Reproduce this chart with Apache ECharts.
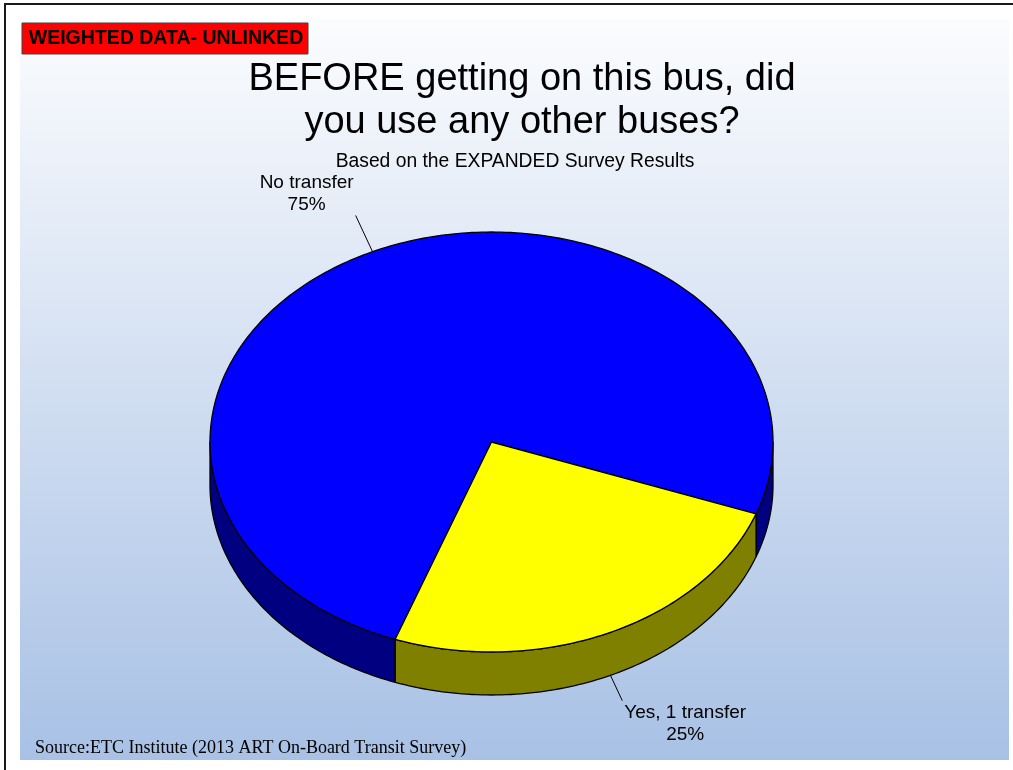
<!DOCTYPE html>
<html>
<head>
<meta charset="utf-8">
<title>Transfers before boarding</title>
<script src="https://cdn.jsdelivr.net/npm/echarts/dist/echarts.min.js"></script>
<style>
  html, body { margin: 0; padding: 0; background: #ffffff; }
  #chart { width: 1013px; height: 770px; }
</style>
</head>
<body>
<div id="chart"></div>
<script>
// Survey answers and their shares (percent of expanded responses)
const categories = ['No transfer', 'Yes, 1 transfer'];
const shares = [75, 25];

// Face and wall colours of each slice
const topColors = ['#0000ff', '#ffff00'];
const sideColors = ['#000080', '#808000'];

const FONT = '"Liberation Sans", Arial, sans-serif';
const LABEL_SIZE = 19;

// Tilted pie geometry (pixels)
const cx = 491.5, cy = 442, rx = 281.5, ry = 210, depth = 43;
// Screen angle (deg, clockwise from 3 o'clock) where the first slice begins
const startAngle = 110;

const total = shares.reduce((s, v) => s + v, 0);
const spans = [];
(function () {
  let a = startAngle;
  shares.forEach(v => {
    const b = a + v / total * 360;
    spans.push([a, b]);
    a = b;
  });
})();

function ellPt(t, dy) {
  const r = t * Math.PI / 180;
  return [cx + rx * Math.cos(r), cy + ry * Math.sin(r) + (dy || 0)];
}
function arc(a, b, dy) {
  const n = Math.max(2, Math.ceil(Math.abs(b - a)));
  const pts = [];
  for (let i = 0; i <= n; i++) pts.push(ellPt(a + (b - a) * i / n, dy));
  return pts;
}

const measureCtx = document.createElement('canvas').getContext('2d');
measureCtx.font = LABEL_SIZE + 'px ' + FONT;

const chart = echarts.init(document.getElementById('chart'), null, { renderer: 'canvas' });

const pieData = categories.map((c, i) => ({ name: c, value: shares[i] }));

const edge = { stroke: '#000000', lineWidth: 1.3, lineJoin: 'round' };

// Side walls: only the front half of the rim is visible
function renderSide(params, api) {
  const [a, b] = spans[params.dataIndex];
  const children = [];
  for (let k = 0; k < 3; k++) {
    const lo = Math.max(a, k * 360), hi = Math.min(b, k * 360 + 180);
    if (hi > lo) {
      children.push({
        type: 'polygon',
        shape: { points: arc(lo, hi, 0).concat(arc(hi, lo, depth)) },
        style: Object.assign({ fill: sideColors[params.dataIndex] }, edge)
      });
    }
  }
  return { type: 'group', children };
}

// Top faces plus the outside labels with leader lines
function renderTop(params, api) {
  const i = params.dataIndex;
  const [a, b] = spans[i];
  const value = api.value(0);
  const pts = [[cx, cy]].concat(arc(a, b, 0));
  const children = [{
    type: 'polygon',
    shape: { points: pts },
    style: Object.assign({ fill: topColors[i] }, edge)
  }];

  const mid = (a + b) / 2;
  const r = mid * Math.PI / 180;
  const front = Math.sin(r) > 0;
  const start = ellPt(mid, front ? depth : 0);
  const len = front ? 28 : 40;
  const end = [start[0] + Math.cos(r) * len, start[1] + Math.sin(r) * len];
  children.push({
    type: 'line',
    shape: { x1: start[0], y1: start[1], x2: end[0], y2: end[1] },
    style: { stroke: '#000000', lineWidth: 1 }
  });

  const pct = Math.round(value / total * 100) + '%';
  const lines = [categories[i], pct];
  const w = Math.max.apply(null, lines.map(t => measureCtx.measureText(t).width));
  const dir = Math.cos(r) < 0 ? -1 : 1;
  children.push({
    type: 'text',
    x: end[0] + dir * (w / 2 + 2),
    y: front ? end[1] + 1 : end[1],
    style: {
      text: lines.join('\n'),
      fill: '#000000',
      fontFamily: FONT,
      fontSize: LABEL_SIZE,
      lineHeight: 22,
      align: 'center',
      verticalAlign: front ? 'top' : 'bottom'
    }
  });
  return { type: 'group', children };
}

chart.setOption({
  animation: false,
  graphic: [
    // page frame
    { type: 'rect', z: -30, shape: { x: 5, y: 4, width: 1040, height: 800 },
      style: { fill: '#ffffff', stroke: '#1a1a1a', lineWidth: 2 } },
    // plot backdrop
    { type: 'rect', z: -20, shape: { x: 20, y: 19, width: 989, height: 741 },
      style: { fill: { type: 'linear', x: 0, y: 0, x2: 0, y2: 1,
        colorStops: [{ offset: 0, color: '#fbfcfe' }, { offset: 1, color: '#a8c1e5' }] } } },
    // weighting badge
    { type: 'rect', z: -10, shape: { x: 22, y: 23, width: 286, height: 31 },
      style: { fill: '#ff0000', stroke: '#444444', lineWidth: 1 } },
    { type: 'text', z: -9, x: 166, y: 39,
      style: { text: 'WEIGHTED DATA- UNLINKED', fill: '#000000', fontFamily: FONT,
        fontWeight: 'bold', fontSize: 19.5, align: 'center', verticalAlign: 'middle' } },
    // title
    { type: 'text', z: -9, x: 522, y: 101,
      style: { text: 'BEFORE getting on this bus, did\nyou use any other buses?', fill: '#000000',
        fontFamily: FONT, fontSize: 38, lineHeight: 43, align: 'center', verticalAlign: 'middle' } },
    { type: 'text', z: -9, x: 515, y: 162,
      style: { text: 'Based on the EXPANDED Survey Results', fill: '#000000',
        fontFamily: FONT, fontSize: 19.3, align: 'center', verticalAlign: 'middle' } },
    // source note
    { type: 'text', z: -9, x: 35, y: 748,
      style: { text: 'Source:ETC Institute (2013 ART On-Board Transit Survey)', fill: '#000000',
        fontFamily: '"Liberation Serif", "Times New Roman", serif', fontSize: 18,
        align: 'left', verticalAlign: 'middle' } }
  ],
  series: [
    { type: 'custom', name: 'walls', coordinateSystem: 'none', z: 2,
      renderItem: renderSide, data: pieData, silent: true },
    { type: 'custom', name: 'faces', coordinateSystem: 'none', z: 3,
      renderItem: renderTop, data: pieData, silent: true }
  ]
});
</script>
</body>
</html>
